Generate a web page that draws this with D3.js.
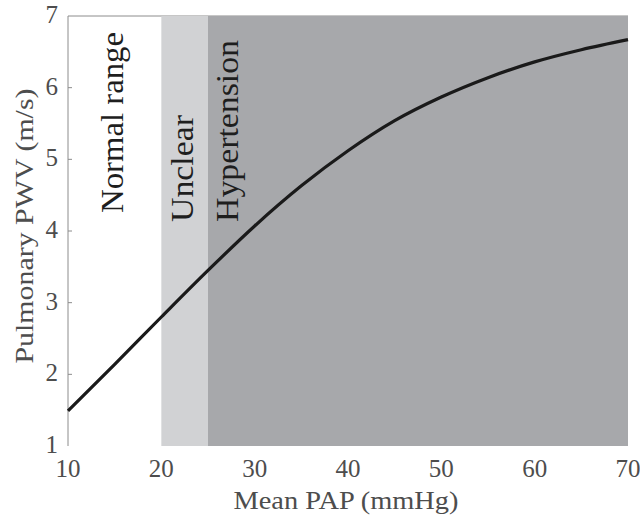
<!DOCTYPE html>
<html>
<head>
<meta charset="utf-8">
<script src="https://cdn.jsdelivr.net/npm/d3@7"></script>
<style>
  body { margin: 0; }
  #pwv text { font-family: "Liberation Serif", "Times New Roman" !important; }
</style>
</head>
<body>
<svg id="pwv" width="640" height="518"></svg>
<script>
// Mean pulmonary arterial pressure (mmHg) vs predicted pulmonary pulse wave velocity (m/s)
const papValues = [10, 15, 20, 25, 30, 35, 40, 45, 50, 55, 60, 65, 70];
const pwvValues = [1.49, 2.14, 2.80, 3.45, 4.07, 4.63, 5.12, 5.54, 5.87, 6.14, 6.36, 6.53, 6.67];

// Pressure bands
const bandNames = ["Normal range", "Unclear", "Hypertension"];
const bandStart = [10, 20, 25];
const bandEnd = [20, 25, 70];
const bandFill = ["none", "#d1d2d4", "#a7a8ab"];

const xTicks = [10, 20, 30, 40, 50, 60, 70];
const yTicks = [1, 2, 3, 4, 5, 6, 7];

const margin = { left: 68, right: 12, top: 16, bottom: 72 };
const W = 640, H = 518;
const svg = d3.select("#pwv");

const x = d3.scaleLinear().domain([10, 70]).range([margin.left, W - margin.right]);
const y = d3.scaleLinear().domain([1, 7]).range([H - margin.bottom, margin.top]);

const tickColor = "#4d4d4d";
const lineColor = "#8c8c8c";

// Axis frame: left and top edges
svg.append("line")
  .attr("x1", x(10)).attr("x2", x(10))
  .attr("y1", y(1)).attr("y2", y(7))
  .attr("stroke", lineColor).attr("stroke-width", 1);
svg.append("line")
  .attr("x1", x(10)).attr("x2", x(70))
  .attr("y1", y(7)).attr("y2", y(7))
  .attr("stroke", lineColor).attr("stroke-width", 1);

// Inward tick marks on the y axis
svg.append("g").selectAll("line")
  .data(yTicks.slice(1, -1))
  .join("line")
  .attr("x1", x(10)).attr("x2", x(10) + 4)
  .attr("y1", d => y(d)).attr("y2", d => y(d))
  .attr("stroke", lineColor).attr("stroke-width", 1);

// Shaded pressure bands
svg.append("g").selectAll("rect")
  .data(bandNames.map((n, i) => ({ name: n, s: bandStart[i], e: bandEnd[i], fill: bandFill[i] })))
  .join("rect")
  .attr("x", d => x(d.s))
  .attr("width", d => x(d.e) - x(d.s))
  .attr("y", y(7))
  .attr("height", y(1) - y(7))
  .attr("fill", d => d.fill === "none" ? "transparent" : d.fill);

// Band labels, written vertically
const labelSpecs = [
  { bx: (x(bandStart[0]) + x(bandEnd[0])) / 2 + 8.5, by: 213, len: 181 },
  { bx: (x(bandStart[1]) + x(bandEnd[1])) / 2 + 8, by: 222, len: 107 },
  { bx: x(bandStart[2]) + 30, by: 222, len: 182 }
];
bandNames.forEach((name, i) => {
  const s = labelSpecs[i];
  svg.append("text")
    .attr("transform", `translate(${s.bx},${s.by}) rotate(-90)`)
    .style("font-size", "32px")
    .attr("fill", "#1e1e1e")
    .attr("textLength", s.len)
    .attr("lengthAdjust", "spacingAndGlyphs")
    .text(name);
});

// PWV curve
const line = d3.line()
  .x((d, i) => x(papValues[i]))
  .y(d => y(d))
  .curve(d3.curveMonotoneX);
svg.append("path")
  .datum(pwvValues)
  .attr("d", line)
  .attr("fill", "none")
  .attr("stroke", "#1a1a1a")
  .attr("stroke-width", 3.2);

// X tick labels
svg.append("g").selectAll("text")
  .data(xTicks)
  .join("text")
  .attr("x", d => x(d))
  .attr("y", 477)
  .attr("text-anchor", "middle")
  .style("font-size", "25px")
  .attr("fill", tickColor)
  .text(d => d);

// Y tick labels
svg.append("g").selectAll("text")
  .data(yTicks)
  .join("text")
  .attr("x", x(10) - 10)
  .attr("y", d => y(d) + 7)
  .attr("text-anchor", "end")
  .style("font-size", "25px")
  .attr("fill", tickColor)
  .text(d => d);

// Axis titles
svg.append("text")
  .attr("x", (x(10) + x(70)) / 2 - 2)
  .attr("y", 509)
  .attr("text-anchor", "middle")
  .style("font-size", "25px")
  .attr("fill", tickColor)
  .attr("textLength", 225)
  .attr("lengthAdjust", "spacingAndGlyphs")
  .text("Mean PAP (mmHg)");

svg.append("text")
  .attr("transform", `translate(33,${(y(1) + y(7)) / 2 - 5}) rotate(-90)`)
  .attr("text-anchor", "middle")
  .style("font-size", "25px")
  .attr("fill", tickColor)
  .attr("textLength", 275)
  .attr("lengthAdjust", "spacingAndGlyphs")
  .text("Pulmonary PWV (m/s)");
</script>
</body>
</html>
